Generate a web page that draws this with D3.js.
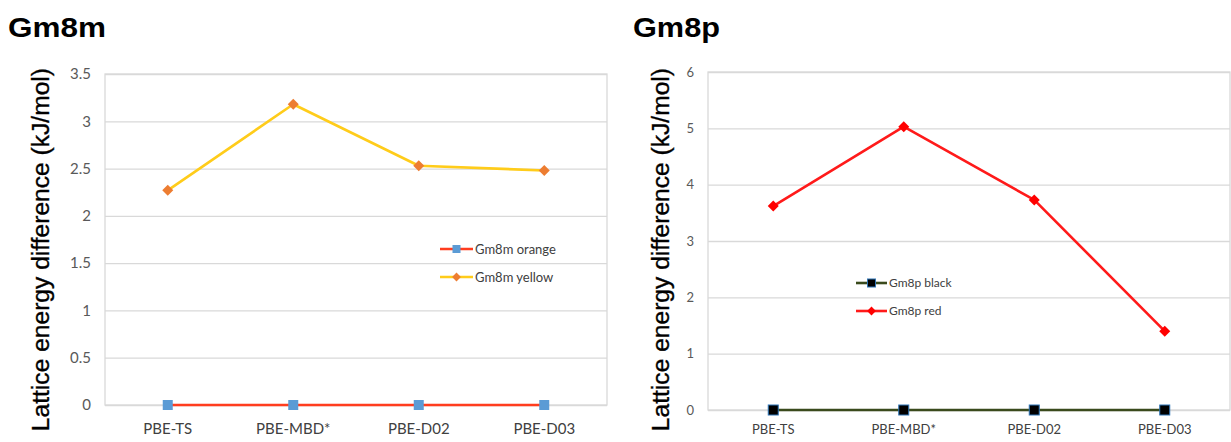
<!DOCTYPE html>
<html><head><meta charset="utf-8">
<script src="https://cdn.jsdelivr.net/npm/d3@7"></script>
<style>
body{margin:0;background:#fff;}
svg{display:block;}
</style></head>
<body>
<svg id="c" width="1231" height="442"></svg>
<script>
const categories = ["PBE-TS","PBE-MBD*","PBE-D02","PBE-D03"];
const gm8mOrange = [0,0,0,0];
const gm8mYellow = [2.27,3.18,2.53,2.48];
const gm8pBlack = [0,0,0,0];
const gm8pRed = [3.62,5.03,3.73,1.40];
const leftTicks = [0,0.5,1,1.5,2,2.5,3,3.5];
const rightTicks = [0,1,2,3,4,5,6];
const yLabel = "Lattice energy difference (kJ/mol)";

const svg = d3.select("#c");
const tickFont = "Lato, 'Open Sans', sans-serif";

function panel(opt){
  const g = svg.append("g");
  // titles
  g.append("text").attr("x",opt.titleX).attr("y",37).text(opt.title)
    .attr("font-family","Arial, 'Liberation Sans', sans-serif").attr("font-weight","bold")
    .attr("font-size",27).attr("fill","#000")
    .attr("textLength",opt.titleW).attr("lengthAdjust","spacingAndGlyphs");
  // y label
  g.append("text").attr("transform",`translate(${opt.labelX},${opt.labelTop}) rotate(-90)`)
    .attr("text-anchor","end")
    .attr("font-family","Arial, 'Liberation Sans', sans-serif").attr("font-size",24.6)
    .attr("fill","#000").attr("stroke","#000").attr("stroke-width",0.35).text(yLabel);

  const x = d3.scaleBand().domain(categories).range([opt.left,opt.right]);
  const y = d3.scaleLinear().domain([0,opt.max]).range([opt.bottom,opt.top]);

  // grid + tick labels
  const ax = g.append("g").attr("transform",`translate(${opt.left},0)`)
    .call(d3.axisLeft(y).tickValues(opt.ticks).tickSize(-(opt.right-opt.left)).tickPadding(14).tickFormat(d=>String(d)));
  ax.select(".domain").remove();
  ax.selectAll(".tick line").attr("stroke","#d9d9d9").attr("stroke-width",1.3);
  ax.selectAll(".tick text").attr("font-family",tickFont).attr("font-size",opt.tickSize).attr("fill","#595959");
  // plot border
  g.append("rect").attr("x",opt.left).attr("y",opt.top).attr("width",opt.right-opt.left).attr("height",opt.bottom-opt.top)
    .attr("fill","none").attr("stroke","#d9d9d9").attr("stroke-width",1.3);

  // x labels
  const xa = g.append("g").attr("transform",`translate(0,${opt.bottom})`)
    .call(d3.axisBottom(x).tickSize(0).tickPadding(opt.xPad));
  xa.select(".domain").remove();
  xa.selectAll(".tick text").attr("font-family",tickFont).attr("font-size",opt.tickSize).attr("fill","#404040");

  const cx = d => x(d)+x.bandwidth()/2;
  const line = d3.line().x((d,i)=>cx(categories[i])).y(d=>y(d));

  opt.series.forEach(s=>{
    g.append("path").datum(s.values).attr("d",line).attr("fill","none")
      .attr("stroke",s.line).attr("stroke-width",s.width||2.6).attr("stroke-linejoin","round");
  });
  opt.series.forEach(s=>{
    s.values.forEach((v,i)=>marker(g,s,cx(categories[i]),y(v)));
  });

  // legend
  opt.series.forEach((s,i)=>{
    const ly = opt.legY + i*opt.legGap;
    g.append("line").attr("x1",opt.legX).attr("x2",opt.legX+opt.legLen).attr("y1",ly).attr("y2",ly)
      .attr("stroke",s.line).attr("stroke-width",s.width||2.6);
    marker(g,s,opt.legX+opt.legLen/2,ly,0.8);
    g.append("text").attr("x",opt.legX+opt.legLen+2).attr("y",ly).attr("dy","0.35em")
      .attr("font-family",tickFont).attr("font-size",opt.legFont).attr("fill","#404040").text(s.name);
  });
}

function marker(g,s,mx,my,k=1){
  if(s.shape==="square"){
    const w=10*k;
    g.append("rect").attr("x",mx-w/2).attr("y",my-w/2).attr("width",w).attr("height",w)
      .attr("fill",s.fill).attr("stroke",s.stroke||"none").attr("stroke-width",1);
  } else {
    const r=5.5*k;
    g.append("path").attr("d",`M${mx},${my-r}L${mx+r},${my}L${mx},${my+r}L${mx-r},${my}Z`)
      .attr("fill",s.fill);
  }
}

panel({
  title:"Gm8m", titleX:8, titleW:98, labelX:49, labelTop:68,
  left:105, right:607, top:74, bottom:405, max:3.5, ticks:leftTicks, tickSize:15, xPad:18,
  legX:440, legY:249, legGap:28, legLen:33, legFont:13,
  series:[
    {name:"Gm8m orange", values:gm8mOrange, line:"#ff3d1f", shape:"square", fill:"#5b9bd5"},
    {name:"Gm8m yellow", values:gm8mYellow, line:"#ffcc1a", shape:"diamond", fill:"#ed7d31"}
  ]
});
panel({
  title:"Gm8p", titleX:633, titleW:87, labelX:669, labelTop:68,
  left:708, right:1230, top:72, bottom:410, max:6, ticks:rightTicks, tickSize:13, xPad:15,
  legX:856, legY:283, legGap:28, legLen:31, legFont:12,
  series:[
    {name:"Gm8p black", values:gm8pBlack, line:"#3a4a1c", shape:"square", fill:"#000", stroke:"#2e75b6"},
    {name:"Gm8p red", values:gm8pRed, line:"#ff1a1a", shape:"diamond", fill:"#ff0000"}
  ]
});
</script>
</body></html>
